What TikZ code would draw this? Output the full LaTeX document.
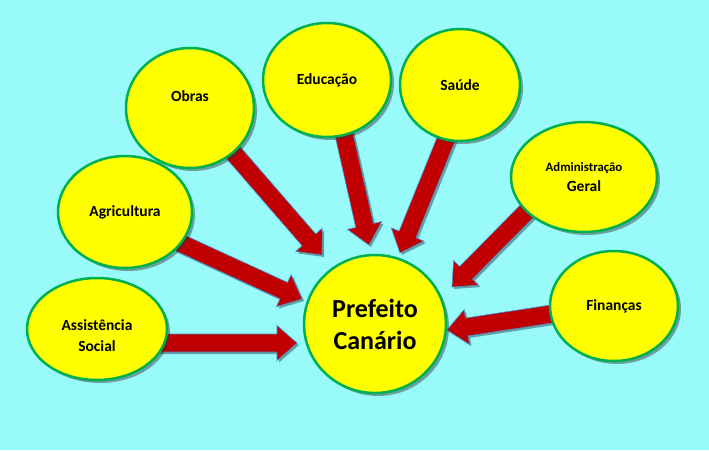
\documentclass[tikz,border=0pt]{standalone}
\usepackage{fontspec}
\setmainfont{Carlito}
\usetikzlibrary{shadows,calc,shapes.geometric}
\definecolor{bg}{RGB}{153,250,250}
\definecolor{yel}{RGB}{255,255,0}
\definecolor{grn}{RGB}{0,176,80}
\definecolor{arrred}{RGB}{192,0,0}
\definecolor{arrline}{RGB}{70,140,210}
\tikzset{
  ell/.style={ellipse, fill=yel, draw=grn, line width=2.5pt, inner sep=0pt, align=center,
    font=\bfseries\fontsize{15.5}{21}\selectfont,
    drop shadow={shadow xshift=3pt, shadow yshift=-3pt, opacity=0.45, fill=black!80}},
  blockarr/.style={fill=arrred, draw=arrline, line width=0.6pt,
    drop shadow={shadow xshift=2pt, shadow yshift=-2pt, opacity=0.35, fill=black}}
}
\newcommand\blockarrow[2]{%
  \coordinate (hb) at ($(#2)!20pt!(#1)$);
  \path[blockarr] ($(#1)!9pt!90:(#2)$) -- ($(hb)!9pt!90:(#2)$) -- ($(hb)!17.5pt!90:(#2)$)
    -- (#2) -- ($(hb)!17.5pt!-90:(#2)$) -- ($(hb)!9pt!-90:(#2)$) -- ($(#1)!9pt!-90:(#2)$) -- cycle;
}
\begin{document}
\begin{tikzpicture}[x=1pt,y=-1pt]
\fill[bg] (0,0) rectangle (709,450);
\useasboundingbox (0,0) rectangle (709,450);

% arrow end points
\coordinate (s1) at (158,343);  \coordinate (t1) at (297,343);
\coordinate (s2) at (178,242);  \coordinate (t2) at (302,299);
\coordinate (s3) at (218,135);  \coordinate (t3) at (322,255);
\coordinate (s4) at (343,130);  \coordinate (t4) at (369,245);
\coordinate (s5) at (449,132);  \coordinate (t5) at (400,253);
\coordinate (s6) at (530,208);  \coordinate (t6) at (452,287);
\coordinate (s7) at (558,313);  \coordinate (t7) at (447,330);

\blockarrow{s1}{t1}
\blockarrow{s2}{t2}
\blockarrow{s3}{t3}
\blockarrow{s4}{t4}
\blockarrow{s5}{t5}
\blockarrow{s6}{t6}
\blockarrow{s7}{t7}

\node[ell, minimum width=142pt, minimum height=138pt, font=\bfseries\fontsize{26}{32}\selectfont] (pref) at (375,324) {Prefeito\\Canário};
\node[ell, minimum width=140pt, minimum height=102pt] (assist) at (97,329) {\mbox{}\\[4pt]Assistência\\Social};
\node[ell, minimum width=134pt, minimum height=112pt] (agri) at (125,212) {Agricultura};
\node[ell, minimum width=128pt, minimum height=120pt] (obras) at (190,108) {Obras\\[2pt]};
\node[ell, minimum width=128pt, minimum height=114pt] (edu) at (327,80) {Educação};
\node[ell, minimum width=120pt, minimum height=112pt] (saude) at (460,85) {Saúde};
\node[ell, minimum width=146pt, minimum height=110pt] (admin) at (584,177) {{\fontsize{12.8}{15}\selectfont Administração}\\[-1pt]Geral};
\node[ell, minimum width=128pt, minimum height=110pt] (fin) at (614,306) {Finanças};
\end{tikzpicture}
\end{document}
